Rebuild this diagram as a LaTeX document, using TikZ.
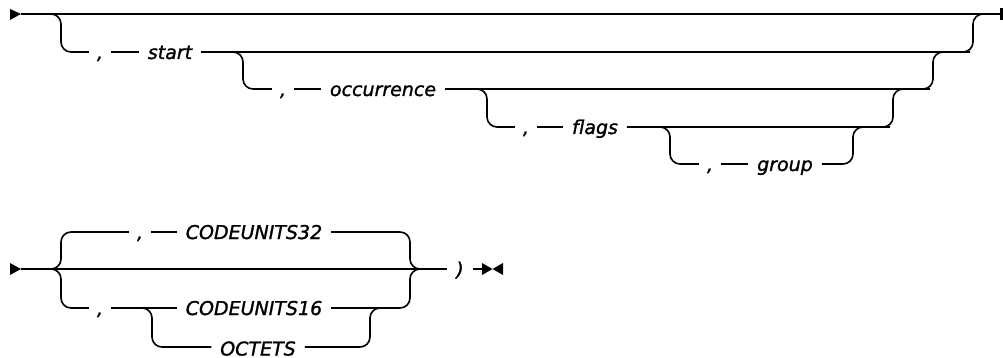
\documentclass[tikz,border=0pt]{standalone}
\usepackage{fontspec}
\setmainfont{DejaVu Sans}
\newfontfamily\railfont{DejaVu Sans Oblique}[FakeBold=1.3]
\usetikzlibrary{arrows.meta,calc,positioning}

\tikzset{
  rail/.style={line width=1.6pt,rounded corners=10pt},
  kw/.style={font=\railfont\fontsize{19}{19}\selectfont,inner xsep=9pt,inner ysep=0pt,
    text height=17pt,text depth=3pt,outer sep=0pt},
  sepr/.style={kw,inner xsep=8pt},
  tip/.style={fill=black}
}

\begin{document}
\begin{tikzpicture}[x=1pt,y=-1pt]
  \useasboundingbox (0,0) rectangle (1003,358);

  % Oeverste diagram: hovedlinje
  \fill[tip] (10,9) -- (21,14) -- (10,20) -- cycle;
  \draw[rail] (21,14) -- (1001,14);
  \draw[line width=3pt] (1001.5,8) -- (1001.5,20);

  % Valgfri parametre
  \node[sepr] (cs) at (100,52) {,};
  \node[kw] (s) at (170,52) {start};
  \node[sepr] (co) at (283,89) {,};
  \node[kw] (o) at (383,89) {occurrence};
  \node[sepr] (cf) at (526,127) {,};
  \node[kw] (f) at (595,127) {flags};
  \node[sepr] (cg) at (710,164) {,};
  \node[kw] (g) at (785,164) {group};

  \draw[rail] (50,14) -- (61,14) -- (61,52) -- (cs);
  \draw[rail] (cs) -- (s);
  \draw[rail] (s) -- (960,52) -- (973,52) -- (973,14) -- (985,14);

  \draw[rail] (232,52) -- (243,52) -- (243,89) -- (co);
  \draw[rail] (co) -- (o);
  \draw[rail] (o) -- (920,89) -- (933,89) -- (933,52) -- (945,52);

  \draw[rail] (476,89) -- (487,89) -- (487,127) -- (cf);
  \draw[rail] (cf) -- (f);
  \draw[rail] (f) -- (880,127) -- (893,127) -- (893,89) -- (905,89);

  \draw[rail] (659,127) -- (670,127) -- (670,164) -- (cg);
  \draw[rail] (cg) -- (g);
  \draw[rail] (g) -- (853,164) -- (853,127) -- (865,127);

  % Nederste diagram
  \fill[tip] (10,263) -- (21,269) -- (10,275) -- cycle;
  \node[kw] (rp) at (460,269) {)};
  \draw[rail] (21,269) -- (rp);
  \draw[rail] (rp) -- (482,269);
  \fill[tip] (482,263) -- (492.5,269) -- (482,275) -- cycle;
  \fill[tip] (503,263) -- (492.5,269) -- (503,275) -- cycle;

  % Enheder
  \node[sepr] (c32) at (140,232) {,};
  \node[kw] (u32) at (254,232) {CODEUNITS32};
  \node[sepr] (c16) at (100,308) {,};
  \node[kw] (u16) at (254,308) {CODEUNITS16};
  \node[kw,text depth=0pt] (oct) at (258,347) {OCTETS};

  \draw[rail] (50,269) -- (61,269) -- (61,232) -- (c32);
  \draw[rail] (c32) -- (u32);
  \draw[rail] (u32) -- (410,232) -- (410,269) -- (421,269);

  \draw[rail] (50,269) -- (61,269) -- (61,308) -- (c16);
  \draw[rail] (c16) -- (u16);
  \draw[rail] (u16) -- (410,308) -- (410,269) -- (421,269);

  \draw[rail] (141,308) -- (152,308) -- (152,347) -- (oct);
  \draw[rail] (oct) -- (370,347) -- (370,308) -- (381,308);
\end{tikzpicture}
\end{document}
